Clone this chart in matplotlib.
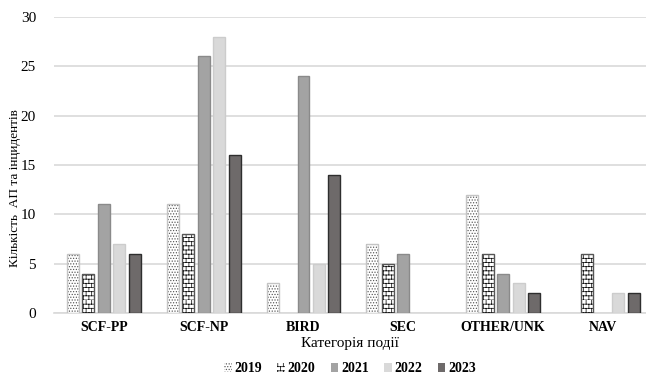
import warnings
warnings.filterwarnings("ignore")
import numpy as np
import matplotlib
matplotlib.use("Agg")
import matplotlib.pyplot as plt
from matplotlib import hatch as mhatch
from matplotlib.path import Path

categories = ["SCF-PP", "SCF-NP", "BIRD", "SEC", "OTHER/UNK", "NAV"]
years = ["2019", "2020", "2021", "2022", "2023"]
v2019 = [6, 11, 3, 7, 12, 0]
v2020 = [4, 8, 0, 5, 6, 6]
v2021 = [11, 26, 24, 6, 4, 0]
v2022 = [7, 28, 5, 0, 3, 2]
v2023 = [6, 16, 14, 0, 2, 2]
series = [v2019, v2020, v2021, v2022, v2023]


class BrickHatch(mhatch.HatchPatternBase):
    rows = 24
    cols = 18

    def __init__(self, hatch, density):
        self.on = hatch.count('B') > 0
        if self.on:
            self.num_vertices = 2 * self.rows + 2 * self.rows * self.cols
        else:
            self.num_vertices = 0

    def set_vertices_and_codes(self, vertices, codes):
        k = 0
        for i in range(self.rows):
            y = i / self.rows
            vertices[k] = (0, y); codes[k] = Path.MOVETO; k += 1
            vertices[k] = (1, y); codes[k] = Path.LINETO; k += 1
        for i in range(self.rows):
            y0 = i / self.rows
            y1 = (i + 1) / self.rows
            off = 0.5 * (i % 2)
            for j in range(self.cols):
                xx = (j + off) / self.cols
                vertices[k] = (xx, y0); codes[k] = Path.MOVETO; k += 1
                vertices[k] = (xx, y1); codes[k] = Path.LINETO; k += 1


mhatch._hatch_types.append(BrickHatch)

plt.rcParams['font.family'] = ['Liberation Serif', 'DejaVu Serif']
plt.rcParams['hatch.linewidth'] = 0.55

fig = plt.figure(figsize=(6.46, 3.77), dpi=100)
ax = fig.add_axes([54 / 646, 64 / 377, 592 / 646, 296 / 377])

faces = ["white", "white", "#a3a3a3", "#d9d9d9", "#6e6a6a"]
hatches = ["......", "B", None, None, None]
hcolors = ["#555555", "#111111", "#a3a3a3", "#d9d9d9", "#6e6a6a"]
outlines = ["#c4c4c4", "#555555", "#8a8a8a", "#cccccc", "#2e2e2e"]

x = np.arange(len(categories))
w = 0.12
step = 0.155
handles = []
for k, (vals, yr) in enumerate(zip(series, years)):
    pos = x + (k - 2) * step
    vals = np.asarray(vals, dtype=float)
    b = ax.bar(pos, vals, width=w, color=faces[k], hatch=hatches[k],
               edgecolor=hcolors[k], linewidth=0, label=yr, zorder=3)
    m = vals > 0
    ax.bar(pos[m], vals[m], width=w, fill=False, edgecolor=outlines[k],
           linewidth=1.0, zorder=4)
    handles.append(b)

ax.set_ylim(0, 30)
ax.set_xlim(-0.5, -0.5 + 592 / 99.8)
ax.set_yticks(np.arange(0, 31, 5))
ax.yaxis.grid(True, color="#d9d9d9", linewidth=1.2, zorder=0)
ax.set_axisbelow(True)
for s in ["top", "right", "left"]:
    ax.spines[s].set_visible(False)
ax.spines["bottom"].set_color("#d9d9d9")
ax.spines["bottom"].set_linewidth(1.2)
ax.tick_params(axis='y', length=0, pad=13, labelsize=11)
ax.tick_params(axis='x', length=0, pad=6, labelsize=10)
ax.set_xticks(x)
ax.set_xticklabels(categories, fontweight='bold')

ax.set_xlabel("Категорія події", fontsize=11, labelpad=2)
fig.text(15 / 646, 0.5, "Кількість  АП та інцидентів", rotation=90,
         fontsize=9.5, ha='center', va='center')

fig.legend(handles=handles, labels=years, loc='center',
           bbox_to_anchor=(350 / 646, 1 - 369 / 377),
           ncol=5, frameon=False, prop={'weight': 'bold', 'size': 10},
           handlelength=0.55, handleheight=0.55, handletextpad=0.2,
           columnspacing=1.1, borderpad=0)

fig.savefig("out.png", dpi=100)
